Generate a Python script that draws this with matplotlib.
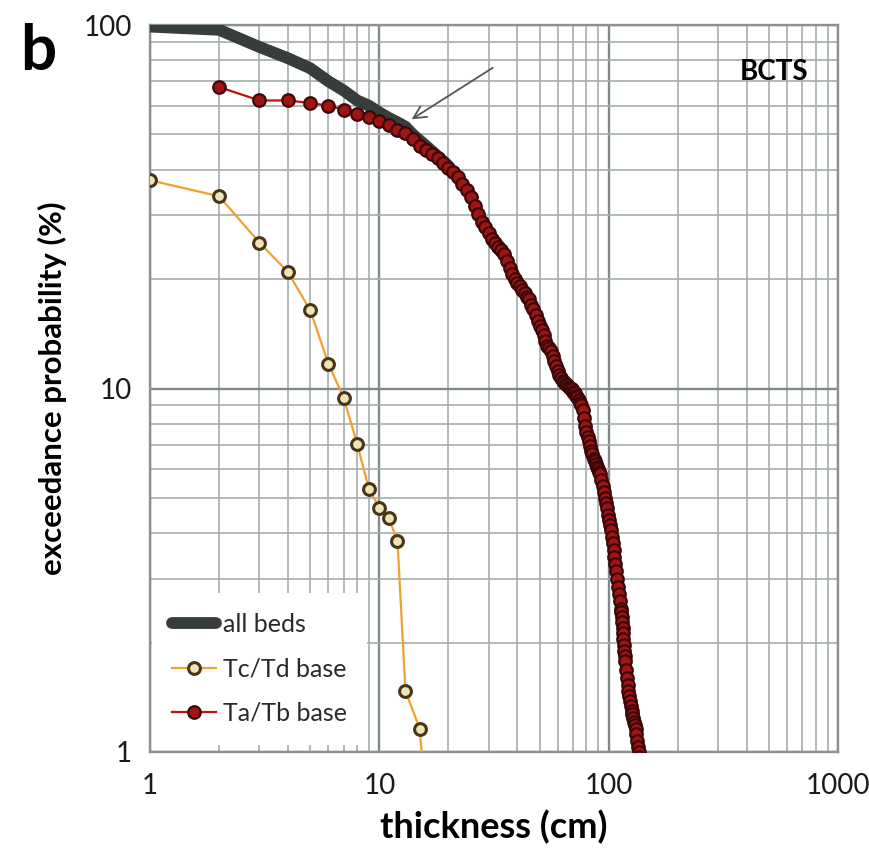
import matplotlib
matplotlib.use("Agg")
import matplotlib.pyplot as plt
from matplotlib.ticker import FixedLocator, LogLocator, NullFormatter

plt.rcParams["font.family"] = ["Lato", "DejaVu Sans"]

# all beds (visible part, the rest sits under the Ta/Tb markers)
all_thick = [1, 2, 3, 4, 5, 6, 7, 8, 9, 10, 11, 12, 13, 14, 16, 20]
all_prob = [99, 97, 87, 81, 76, 70, 66, 62, 60, 57.5, 55.5, 54, 52.5, 50, 46.5, 41]

# Tc/Td base
tc_thick = [1, 2, 3, 4, 5, 6, 7, 8, 9, 10, 11, 12, 13, 15, 16]
tc_prob = [37.4, 33.8, 25.2, 20.9, 16.4, 11.7, 9.4, 7.05, 5.3, 4.7, 4.4, 3.8, 1.47, 1.16, 0.7]

# Ta/Tb base
ta_thick = [2, 3, 4, 5, 6, 7, 8, 9, 10, 11, 12, 13, 14, 15, 16, 17, 18, 19,
            20, 21, 22, 23, 24, 25, 26, 27, 28, 29, 30, 31, 32, 33, 34, 35, 36,
            37, 38, 39, 40, 41, 42, 43, 44, 45, 46, 47, 48, 49, 50, 51, 52, 53,
            54, 55, 56, 57, 58, 59, 60, 61, 62, 63, 64, 65, 66, 67, 68, 69, 70,
            71, 72, 73, 74, 75, 76, 77, 78, 79, 80, 81, 82, 83, 84, 85, 86, 87,
            88, 89, 90, 91, 92, 93, 94, 95, 96, 97, 98, 99, 100, 101, 102, 103,
            104, 105, 106, 107, 108, 109, 110, 111, 112, 113, 113.5, 114, 114.5,
            115, 115.5, 116, 116.5, 117, 117.5, 118, 119, 120, 121, 122, 123,
            124, 125, 126, 127, 128, 129, 130, 131, 132, 133, 134, 135, 136]
ta_prob = [67.5, 62, 62, 61, 60, 58.5, 57, 56, 54.5, 53, 51.5, 50.5, 48.5,
           46.5, 45.3, 44.2, 43, 41.8, 40.5, 39.3, 38.1, 36.6, 35.1, 33.7, 31.8,
           30.2, 28.8, 27.8, 26.7, 25.8, 25.2, 24.5, 24.0, 23.4, 22.4, 21.4,
           20.6, 20.0, 19.5, 19.1, 18.7, 18.3, 17.9, 17.6, 17.0, 16.5, 15.9,
           15.3, 14.9, 14.5, 14.0, 13.5, 13.1, 12.9, 12.7, 12.3, 11.9, 11.5,
           11.2, 10.9, 10.7, 10.5, 10.4, 10.3, 10.2, 10.1, 10.05, 9.95, 9.8,
           9.7, 9.55, 9.45, 9.3, 9.15, 9.0, 8.7, 8.3, 7.9, 7.6, 7.35, 7.15,
           6.95, 6.75, 6.6, 6.4, 6.3, 6.2, 6.1, 6.0, 5.9, 5.8, 5.6, 5.4, 5.2,
           5.0, 4.85, 4.7, 4.5, 4.35, 4.2, 4.08, 3.9, 3.75, 3.6, 3.45, 3.3,
           3.15, 3.0, 2.85, 2.72, 2.6, 2.48, 2.42, 2.35, 2.28, 2.2, 2.12, 2.05,
           1.97, 1.9, 1.84, 1.78, 1.68, 1.6, 1.53, 1.47, 1.43, 1.38, 1.34, 1.3,
           1.27, 1.24, 1.21, 1.19, 1.16, 1.12, 1.07, 1.03, 1.0, 0.97]

fig = plt.figure(figsize=(8.7, 8.59), dpi=100)
ax = fig.add_axes([150 / 870, 1 - 752 / 859, 688 / 870, 727 / 859])

ax.set_xscale("log")
ax.set_yscale("log")
ax.set_xlim(1, 1000)
ax.set_ylim(1, 100)

ax.xaxis.set_major_locator(FixedLocator([1, 10, 100, 1000]))
ax.yaxis.set_major_locator(FixedLocator([1, 10, 100]))
ax.xaxis.set_minor_locator(LogLocator(base=10, subs=range(2, 10)))
ax.yaxis.set_minor_locator(LogLocator(base=10, subs=range(2, 10)))
ax.xaxis.set_minor_formatter(NullFormatter())
ax.yaxis.set_minor_formatter(NullFormatter())
ax.set_xticklabels(["1", "10", "100", "1000"])
ax.set_yticklabels(["1", "10", "100"])

ax.grid(which="major", color="#808a89", linewidth=1.7)
ax.grid(which="minor", color="#a4adac", linewidth=1.2)
ax.set_axisbelow(True)
for s in ax.spines.values():
    s.set_color("#8a9292")
    s.set_linewidth(1.7)
ax.tick_params(which="both", length=0, labelsize=20, colors="#1a1a1a")
ax.tick_params(axis="x", pad=15)
ax.tick_params(axis="y", pad=13)

ax.plot(all_thick, all_prob, color="#373d3d", linewidth=8.5,
        solid_capstyle="round", label="all beds", zorder=3)
ax.plot(tc_thick, tc_prob, color="#f0a02c", linewidth=1.6, marker="o",
        markersize=8.5, markerfacecolor="#efe3b8", markeredgecolor="#4a3418",
        markeredgewidth=2.2, label="Tc/Td base", zorder=4)
ax.plot(ta_thick, ta_prob, color="#c01010", linewidth=1.6, marker="o",
        markersize=9, markerfacecolor="#a01414", markeredgecolor="#3a0808",
        markeredgewidth=1.6, label="Ta/Tb base", zorder=5)

ax.annotate("", xy=(13.5, 54.5), xytext=(32, 77),
            arrowprops=dict(arrowstyle="->,head_length=0.9,head_width=0.45",
                            color="#555555", lw=1.3), zorder=6)

fig.text(808 / 870, 1 - 72 / 859, "BCTS", ha="right", va="center",
         fontsize=20, fontweight="bold")
fig.text(38 / 870, 1 - 52 / 859, "b", fontsize=46, fontweight="bold",
         ha="center", va="center")

ax.set_xlabel("thickness (cm)", fontsize=26, fontweight="bold", labelpad=8)
ax.set_ylabel("exceedance probability (%)", fontsize=22.5, fontweight="bold",
              labelpad=12)

leg = ax.legend(loc="lower left", bbox_to_anchor=(0.003, 0.01),
                borderaxespad=0, fontsize=18, frameon=True, framealpha=1,
                edgecolor="white", facecolor="white", handlelength=1.75,
                handletextpad=0.3, labelspacing=0.85, borderpad=0.8)
leg.get_frame().set_linewidth(0)
for t in leg.get_texts():
    t.set_color("#2a2a2a")

fig.savefig("out.png", dpi=100)
